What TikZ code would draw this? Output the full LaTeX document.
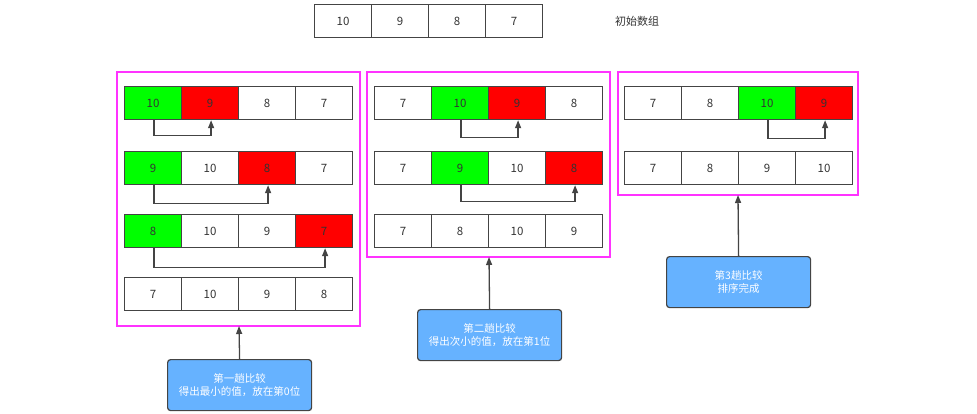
\documentclass[tikz,border=0pt]{standalone}
\usepackage{fontspec}
\setmainfont{Noto Sans CJK SC}
\usetikzlibrary{arrows.meta}
\definecolor{cgreen}{HTML}{00FF00}
\definecolor{cred}{HTML}{FF0000}
\definecolor{cblue}{HTML}{66B2FF}
\definecolor{cmag}{HTML}{FF33FF}
\definecolor{cline}{HTML}{444444}
\newcommand{\rowcells}[4]{%
  \foreach \v/\f [count=\i from 0] in {#4} {
    \node[cellbox, fill=\f] (#1-\i) at ({#2+57*\i}, #3) {\v};
  }%
}
\begin{document}
\begin{tikzpicture}[x=1pt,y=-1pt,
  cellbox/.style={draw=cline, line width=1.2pt, anchor=north west, minimum width=57pt, minimum height=33pt, inner sep=0pt, font=\fontsize{11.5}{13}\selectfont, text=black!80},
  panel/.style={draw=cmag, line width=1.3pt},
  conn/.style={draw=cline, line width=1.3pt, -{Triangle[length=8pt,width=6pt]}},
  note/.style={draw=cline, line width=1.2pt, fill=cblue, rounded corners=3pt, text=white, align=center, font=\fontsize{10.5}{13}\selectfont, minimum width=144pt, minimum height=51pt, inner sep=0pt, anchor=north west}]
\useasboundingbox (0,0) rectangle (977,414);
% initial array
\rowcells{top}{314}{4}{10/white,9/white,8/white,7/white}
\node[font=\fontsize{11}{13}\selectfont, text=black!80] (lbl) at (637,21) {初始数组};
% panels
\draw[panel] (117,72) rectangle (360,326);
\coordinate (pab) at (239,326);
\draw[panel] (367,72) rectangle (610,257);
\coordinate (pbb) at (489,257);
\draw[panel] (618,72) rectangle (858,195);
\coordinate (pcb) at (738,195);
% panel 1
\rowcells{a1}{124}{86}{10/cgreen,9/cred,8/white,7/white}
\rowcells{a2}{124}{151}{9/cgreen,10/white,8/cred,7/white}
\rowcells{a3}{124}{214}{8/cgreen,10/white,9/white,7/cred}
\rowcells{a4}{124}{277}{7/white,10/white,9/white,8/white}
\draw[conn] ([xshift=1pt]a1-0.south) -- ++(0,15) -| ([xshift=1pt]a1-1.south);
\draw[conn] ([xshift=1pt]a2-0.south) -- ++(0,18) -| ([xshift=1pt]a2-2.south);
\draw[conn] ([xshift=1pt]a3-0.south) -- ++(0,19) -| ([xshift=1pt]a3-3.south);
% panel 2
\rowcells{b1}{374}{86}{7/white,10/cgreen,9/cred,8/white}
\rowcells{b2}{374}{151}{7/white,9/cgreen,10/white,8/cred}
\rowcells{b3}{374}{214}{7/white,8/white,10/white,9/white}
\draw[conn] ([xshift=1pt]b1-1.south) -- ++(0,17) -| ([xshift=1pt]b1-2.south);
\draw[conn] ([xshift=1pt]b2-1.south) -- ++(0,16) -| ([xshift=1pt]b2-3.south);
% panel 3
\rowcells{c1}{624}{86}{7/white,8/white,10/cgreen,9/cred}
\rowcells{c2}{624}{151}{7/white,8/white,9/white,10/white}
\draw[conn] ([xshift=1pt]c1-2.south) -- ++(0,18) -| ([xshift=1pt]c1-3.south);
% notes
\node[note] (n1) at (167,359) {第一趟比较\\得出最小的值，放在第0位};
\node[note] (n2) at (417,309) {第二趟比较\\得出次小的值，放在第1位};
\node[note] (n3) at (666,256) {第3趟比较\\排序完成};
\draw[conn] (n1.north) -- (pab);
\draw[conn] (n2.north) -- (pbb);
\draw[conn] (n3.north) -- (pcb);
\end{tikzpicture}
\end{document}
